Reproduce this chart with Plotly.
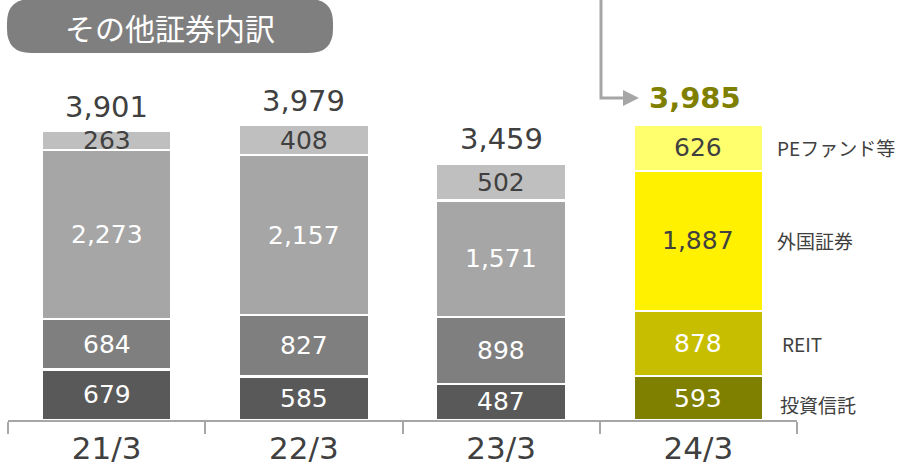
import plotly.graph_objects as go

categories = ["21/3", "22/3", "23/3", "24/3"]
inv_trust = [679, 585, 487, 593]      # 投資信託
reit = [684, 827, 898, 878]           # REIT
foreign = [2273, 2157, 1571, 1887]    # 外国証券
pe_fund = [263, 408, 502, 626]        # PEファンド等
totals = [3901, 3979, 3459, 3985]
series_names = ["投資信託", "REIT", "外国証券", "PEファンド等"]

series = [inv_trust, reit, foreign, pe_fund]
grey = ["#595959", "#7F7F7F", "#A6A6A6", "#BFBFBF"]
yell = ["#7F7F00", "#C8BE00", "#FFF100", "#FFFF6D"]
txt_grey = ["white", "white", "white", "#404040"]
txt_yell = ["white", "white", "#404040", "#404040"]

# plot area in pixels
L, R, T, B = 8, 797, 0, 420
W, H = 906, 467
YMAX = 420 / 0.0742

def px(x):
    return (x - L) / (R - L)

def py(y):
    return (B - y) / (B - T)

fig = go.Figure()
for i, vals in enumerate(series):
    colors = [grey[i]] * 3 + [yell[i]]
    fig.add_trace(go.Bar(
        x=categories, y=vals, name=series_names[i],
        marker=dict(color=colors, line=dict(color="white", width=2.5)),
        width=0.66, hoverinfo="skip",
    ))

NUM_FONT = "DejaVu Sans"
JP_FONT = "Noto Sans CJK JP"
ann = []
# segment labels
for ci, c in enumerate(categories):
    base = 0
    for si, vals in enumerate(series):
        v = vals[ci]
        col = txt_yell[si] if ci == 3 else txt_grey[si]
        ann.append(dict(x=c, y=base + v / 2, text=f"{v:,}", showarrow=False,
                        xref="x", yref="y",
                        font=dict(family=NUM_FONT, size=25, color=col)))
        base += v
    # totals
    if ci == 3:
        ann.append(dict(x=c, y=totals[ci], text=f"<b>{totals[ci]:,}</b>", showarrow=False,
                        yanchor="bottom", yshift=7, xshift=-3,
                        font=dict(family=NUM_FONT, size=29, color="#7F7F00")))
    else:
        ann.append(dict(x=c, y=totals[ci], text=f"{totals[ci]:,}", showarrow=False,
                        yanchor="bottom", yshift=5,
                        font=dict(family=NUM_FONT, size=29, color="#404040")))

# right-side series labels (at last bar segments)
base = 0
right_x = [px(778), px(780), px(775), px(775)]
for si, vals in enumerate(series):
    v = vals[3]
    yc = base + v / 2
    if si == 0:
        yc = base + v / 2 - 90
    ann.append(dict(x=right_x[si], xref="paper", y=yc, yref="y", text=series_names[si],
                    showarrow=False, xanchor="left", yanchor="middle",
                    font=dict(family=JP_FONT, size=19, color="#404040")))
    base += v

# title badge text
ann.append(dict(x=px(170), y=py(27), xref="paper", yref="paper", text="その他証券内訳",
                showarrow=False, xanchor="center", yanchor="middle",
                font=dict(family=JP_FONT, size=30, color="white")))

shapes = []
# pill badge
x0, x1, y0, y1, r = 7, 333, -1, 53, 24
def P(x, y):
    return f"{px(x):.5f},{py(y):.5f}"
path = (f"M {P(x0+r, y0)} L {P(x1-r, y0)} Q {P(x1, y0)} {P(x1, y0+r)} "
        f"L {P(x1, y1-r)} Q {P(x1, y1)} {P(x1-r, y1)} L {P(x0+r, y1)} "
        f"Q {P(x0, y1)} {P(x0, y1-r)} L {P(x0, y0+r)} Q {P(x0, y0)} {P(x0+r, y0)} Z")
shapes.append(dict(type="path", path=path, xref="paper", yref="paper",
                   fillcolor="#7F7F7F", line=dict(width=0), layer="above"))
# arrow
shapes.append(dict(type="path", xref="paper", yref="paper",
                   path=f"M {P(601, -5)} L {P(601, 98)} L {P(626, 98)}",
                   line=dict(color="#A6A6A6", width=3)))
shapes.append(dict(type="path", xref="paper", yref="paper",
                   path=f"M {P(623, 90)} L {P(639, 98)} L {P(623, 106)} Z",
                   fillcolor="#A6A6A6", line=dict(width=0)))

fig.update_layout(
    barmode="stack",
    width=W, height=H,
    margin=dict(l=L, r=W - R, t=T, b=H - B, autoexpand=False),
    plot_bgcolor="white", paper_bgcolor="white",
    showlegend=False,
    annotations=ann, shapes=shapes,
    xaxis=dict(type="category", range=[-0.5, 3.5], showline=True, linecolor="#A6A6A6",
               linewidth=2, ticks="outside", tickson="boundaries", ticklen=12,
               tickcolor="#A6A6A6", tickwidth=1.5, showgrid=False, automargin=False,
               tickfont=dict(family=NUM_FONT, size=31, color="#404040")),
    yaxis=dict(range=[0, YMAX], visible=False, showgrid=False),
)

fig.write_html("out.html", config={"displayModeBar": False},
               post_script="document.body.style.margin='0';document.body.style.padding='0';")
